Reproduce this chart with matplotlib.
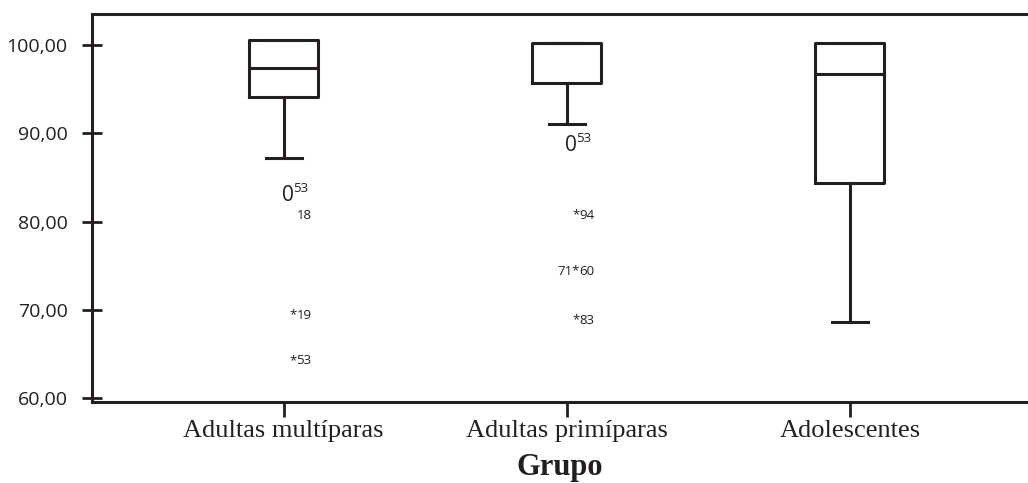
import matplotlib.pyplot as plt

groups = ['Adultas multíparas', 'Adultas primíparas', 'Adolescentes']
q1 = [94.08, 95.66, 84.4]
medians = [97.36, 100.2, 96.7]
q3 = [100.57, 100.2, 100.2]
whis_lo = [87.2, 91.05, 68.6]
whis_hi = [100.57, 100.2, 100.2]

# outliers (circle, drawn as "0") and extremes ("*")
circ_group = [1, 2]
circ_val = [83.0, 88.6]
circ_lab = ['53', '53']

ext_group = [1, 1, 1, 2, 2, 2]
ext_val = [80.75, 69.4, 64.3, 80.75, 74.3, 68.85]
ext_prefix = ['', '*', '*', '*', '71*', '*']
ext_num = ['18', '19', '53', '94', '60', '83']

ink = '#231f20'
plt.rcParams['font.family'] = ['Open Sans', 'DejaVu Sans']

fig = plt.figure(figsize=(10.28, 4.83), dpi=100)
ax = fig.add_axes([92 / 1028, 81 / 483, 936 / 1028, 388 / 483])

stats = []
for i in range(len(groups)):
    stats.append({'med': medians[i], 'q1': q1[i], 'q3': q3[i],
                  'whislo': whis_lo[i], 'whishi': whis_hi[i], 'fliers': []})

lw = 2.2
ax.bxp(stats, positions=[1, 2, 3], widths=0.244, capwidths=0.127,
       showfliers=False,
       boxprops=dict(color=ink, linewidth=lw),
       medianprops=dict(color=ink, linewidth=lw),
       whiskerprops=dict(color=ink, linewidth=lw),
       capprops=dict(color=ink, linewidth=lw))

# circles
for g, v, lab in zip(circ_group, circ_val, circ_lab):
    ax.text(g + 0.015, v, '0', fontsize=15, color=ink, ha='center', va='center')
    ax.annotate(lab, (g + 0.015, v), xytext=(9, 5), textcoords='offset points',
                fontsize=9.5, color=ink, ha='center', va='center')

# extremes
for g, v, pre, num in zip(ext_group, ext_val, ext_prefix, ext_num):
    ax.text(g + 0.045, v, pre, fontsize=9.5, color=ink, ha='right', va='center')
    ax.text(g + 0.045, v, num, fontsize=9.5, color=ink, ha='left', va='center')

ax.set_xlim(0.323, 3.629)
ax.set_ylim(59.58, 103.51)
ax.set_yticks([60, 70, 80, 90, 100])
ax.set_yticklabels(['60,00', '70,00', '80,00', '90,00', '100,00'])
ax.set_xticks([1, 2, 3])
ax.set_xticklabels(groups, family='Liberation Serif', fontsize=19)

ax.tick_params(axis='y', direction='inout', length=15, width=2, color=ink,
               labelsize=14, labelcolor=ink, pad=10)
ax.tick_params(axis='x', direction='out', length=11, width=2, color=ink,
               labelcolor=ink, pad=2)

for side in ['left', 'top', 'bottom']:
    ax.spines[side].set_linewidth(2.2)
    ax.spines[side].set_color(ink)
ax.spines['right'].set_visible(False)

ax.set_xlabel('Grupo', family='Liberation Serif', fontweight='bold',
              fontsize=22, color=ink, labelpad=8)

fig.savefig('out.png', dpi=100)
